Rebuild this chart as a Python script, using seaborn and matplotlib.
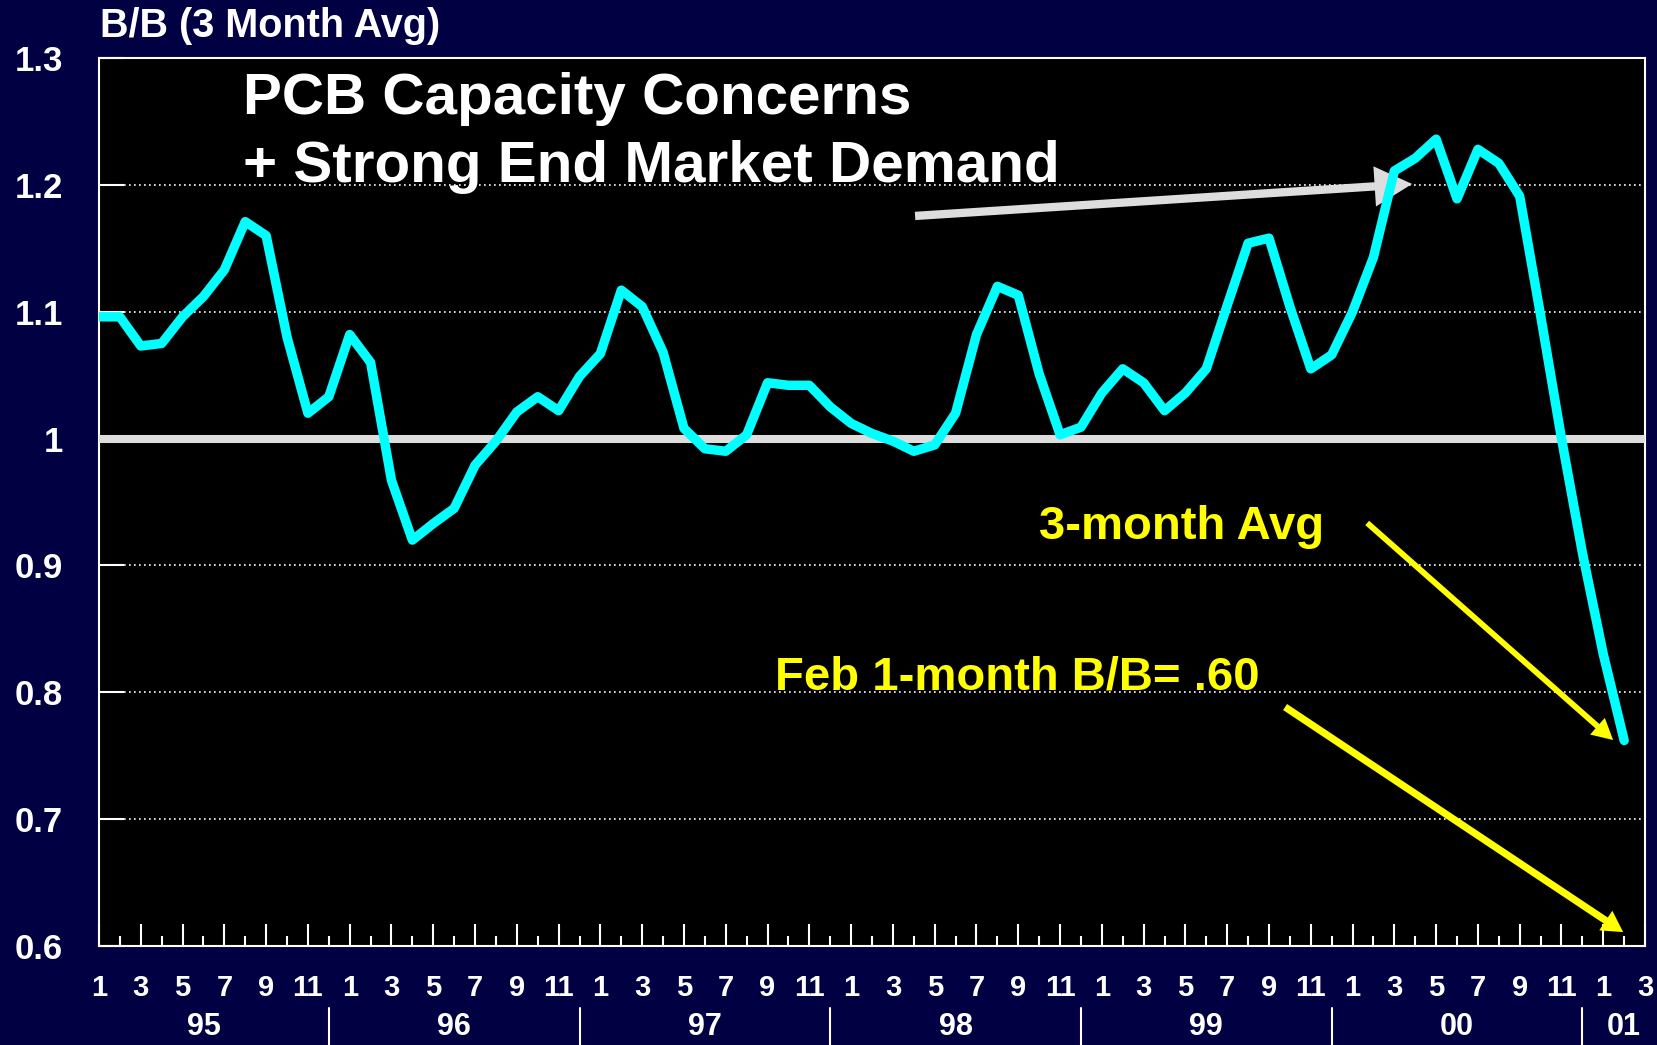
import numpy as np
import pandas as pd
import matplotlib
matplotlib.use('Agg')
import matplotlib.pyplot as plt
import seaborn as sns

sns.set_style('dark')
plt.rcParams['font.family'] = ['Liberation Sans', 'DejaVu Sans']
plt.rcParams['font.weight'] = 'bold'

# === DATA ===
# PCB book-to-bill, 3 month average, Jan 95 .. Feb 01
bb_3mo = [1.096, 1.096, 1.073, 1.075, 1.096, 1.112, 1.133, 1.171, 1.160, 1.080,
          1.020, 1.033, 1.082, 1.060, 0.967, 0.920, 0.933, 0.945, 0.979, 0.998,
          1.021, 1.033, 1.022, 1.049, 1.067, 1.117, 1.104, 1.068, 1.008, 0.992,
          0.990, 1.003, 1.044, 1.042, 1.042, 1.025, 1.012, 1.004, 0.998, 0.990,
          0.995, 1.020, 1.082, 1.120, 1.113, 1.051, 1.003, 1.009, 1.036, 1.055,
          1.044, 1.022, 1.036, 1.055, 1.105, 1.154, 1.158, 1.104, 1.055, 1.066,
          1.100, 1.143, 1.211, 1.221, 1.236, 1.189, 1.228, 1.217, 1.191, 1.097,
          1.000, 0.910, 0.830, 0.762]
year_labels = ['95', '96', '97', '98', '99', '00', '01']
month_labels = ['1', '3', '5', '7', '9', '11'] * 6 + ['1', '3']
y_ticks = [0.6, 0.7, 0.8, 0.9, 1.0, 1.1, 1.2, 1.3]
y_labels = ['0.6', '0.7', '0.8', '0.9', '1', '1.1', '1.2', '1.3']

navy = '#000042'
fig = plt.figure(figsize=(16.58, 10.45), dpi=100, facecolor=navy)
ax = fig.add_axes([0.0597, 0.0947, 0.9325, 0.8498], facecolor='black')

df = pd.DataFrame({'month': np.arange(len(bb_3mo)), 'bb': bb_3mo})
sns.lineplot(data=df, x='month', y='bb', ax=ax, color='#00ffff', lw=6.8,
             solid_capstyle='round', solid_joinstyle='round', zorder=5)

ax.set_xlim(0, 74)
ax.set_ylim(0.6, 1.3)
ax.set_xlabel('')
ax.set_ylabel('')

# grid + reference line at 1
ax.grid(False)
ax.yaxis.grid(True, color='white', linestyle=(0, (1, 2)), linewidth=1.2)
ax.axhline(1.0, color='#dddddd', lw=5.8, zorder=3)

ax.set_yticks(y_ticks)
ax.set_yticklabels(y_labels)
ax.tick_params(axis='y', left=True, direction='in', length=18, width=1.5,
               color='white', labelcolor='white', labelsize=25, pad=26)

ax.set_xticks(np.arange(0, 75, 2))
ax.set_xticklabels(month_labels)
ax.set_xticks(np.arange(1, 74, 2), minor=True)
ax.tick_params(axis='x', which='major', bottom=True, direction='in', length=16,
               width=1.5, color='white', labelcolor='white', labelsize=21, pad=20)
ax.tick_params(axis='x', which='minor', bottom=True, direction='in', length=7,
               width=1.5, color='white')

for s in ax.spines.values():
    s.set_color('white')
    s.set_linewidth(1.5)

# year labels and separators under the month labels
tr = ax.get_xaxis_transform()
for i, yr in enumerate(year_labels):
    c = 5 + 12 * i if i < 6 else 73
    ax.text(c, -0.091, yr, transform=tr, ha='center', va='center',
            color='white', fontsize=22, fontweight='bold')
for sep in range(11, 74, 12):
    ax.plot([sep, sep], [-0.07, -0.12], transform=tr, color='white',
            lw=1.5, clip_on=False)

# titles
fig.text(100 / 1658, 1 - 37 / 1045, 'B/B (3 Month Avg)', fontsize=28.5,
         color='white', fontweight='bold', va='baseline')
fig.text(243 / 1658, 1 - 114 / 1045, 'PCB Capacity Concerns', fontsize=42,
         color='white', fontweight='bold', va='baseline')
fig.text(243 / 1658, 1 - 182 / 1045, '+ Strong End Market Demand', fontsize=42,
         color='white', fontweight='bold', va='baseline')
fig.text(1039 / 1658, 1 - 539 / 1045, '3-month Avg', fontsize=34,
         color='#ffff00', fontweight='bold', va='baseline')
fig.text(775 / 1658, 1 - 689 / 1045, 'Feb 1-month B/B= .60', fontsize=34,
         color='#ffff00', fontweight='bold', va='baseline')

# arrows
ax.annotate('', xy=(62.85, 1.2007), xytext=(39.06, 1.1755),
            arrowprops=dict(color='#dddddd', width=6, headwidth=29,
                            headlength=27, shrink=0, lw=0))
ax.annotate('', xy=(72.47, 0.7624), xytext=(60.7, 0.9335),
            arrowprops=dict(color='#ffff00', width=4.2, headwidth=16,
                            headlength=15, shrink=0, lw=0))
ax.annotate('', xy=(72.95, 0.611), xytext=(56.77, 0.7884),
            arrowprops=dict(color='#ffff00', width=5.2, headwidth=17,
                            headlength=15, shrink=0, lw=0))

fig.savefig('out.png', dpi=100, facecolor=fig.get_facecolor())
